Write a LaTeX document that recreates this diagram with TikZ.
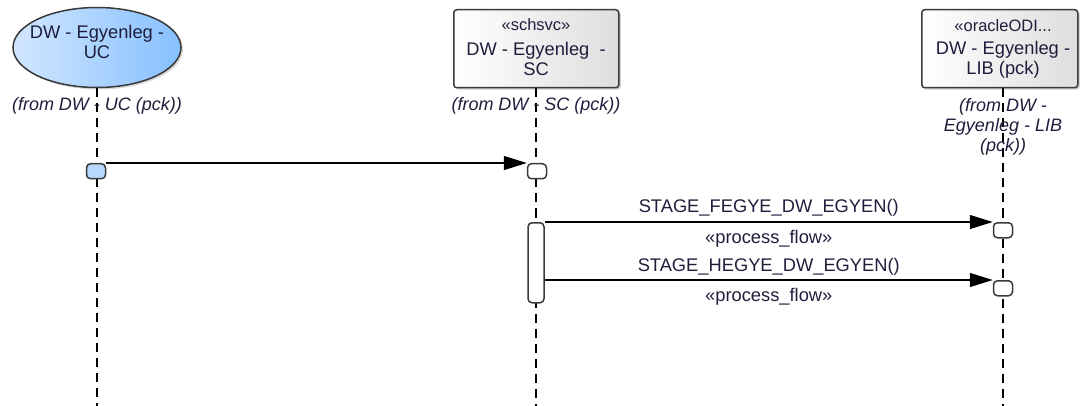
\documentclass[tikz,border=0pt]{standalone}
\usepackage{fontspec}
\setmainfont{Liberation Sans}
\usetikzlibrary{arrows.meta,shadows,shapes.geometric}
\definecolor{txtc}{HTML}{1E1E3C}
\definecolor{edgec}{HTML}{3A3A3A}
\definecolor{ucleft}{HTML}{D2E7FF}
\definecolor{ucright}{HTML}{86C0FF}
\definecolor{execblue}{HTML}{B7D7FF}
\begin{document}
\begin{tikzpicture}[x=1pt,y=-1pt,
  lbl/.style={text=txtc, font=\fontsize{18.3}{20}\selectfont, inner sep=0pt, align=center},
  fromlbl/.style={lbl, font=\fontsize{18}{20}\selectfont\itshape},
  clsbox/.style={draw=edgec, line width=1.5pt, rounded corners=3pt, left color=white, right color=black!13,
    drop shadow={shadow xshift=2pt, shadow yshift=-2pt, opacity=0.35}, minimum height=78pt, inner sep=0pt, anchor=north west},
  life/.style={draw=black, line width=1.3pt, dash pattern=on 9pt off 6pt},
  execbox/.style={draw=edgec, line width=1.5pt, rounded corners=4pt, fill=white, minimum width=19pt, minimum height=15pt, inner sep=0pt, anchor=north},
  msg/.style={draw=black, line width=1.3pt, -{Triangle[length=23pt,width=14pt]}}
]
\useasboundingbox (0,0) rectangle (1081,406);

% lifeline heads
\node[ellipse, draw=edgec, line width=1.5pt, left color=ucleft, right color=ucright,
  minimum width=168pt, minimum height=80pt, inner sep=0pt,
  drop shadow={shadow xshift=2pt, shadow yshift=-2pt, opacity=0.3}] (uc) at (97,47.5) {};
\node[clsbox, minimum width=165pt] (sc) at (453,9) {};
\node[clsbox, minimum width=156pt] (lib) at (921,9) {};

\coordinate (ucend) at (97,406);
\coordinate (scend) at (536,406);
\coordinate (libend) at (1003,406);
\path[life] (uc.south) -- (ucend);
\path[life] (sc.south -| scend) -- (scend);
\path[life] (lib.south -| libend) -- (libend);

% texts in heads
\node[lbl] (ucname) at (97,42) {DW - Egyenleg -\\UC};
\node[lbl, font=\fontsize{16.5}{20}\selectfont] (scst) at (536,25) {«schsvc»};
\node[lbl] (scname) at (536,59) {DW - Egyenleg~~-\\SC};
\node[lbl, font=\fontsize{16.5}{20}\selectfont] (libst) at (1003,26) {«oracleODI...};
\node[lbl] (libname) at (1003,60) {DW - Egyenleg -\\LIB (pck)};

\node[fromlbl] (ucfrom) at (97,106) {(from DW - UC (pck))};
\node[fromlbl] (scfrom) at (536,106) {(from DW - SC (pck))};
\node[fromlbl] (libfrom) at (1003,127) {(from DW -\\Egyenleg - LIB\\(pck))};

% executions
\node[execbox, fill=execblue] (e1) at (96,163) {};
\node[execbox] (e2) at (537,163) {};
\node[execbox, minimum width=16pt, minimum height=80pt] (act) at (536,222) {};
\node[execbox] (e3) at (1003,222) {};
\node[execbox] (e4) at (1003,280) {};

% messages
\draw[msg] (e1.north east) -- (e2.north west);
\draw[msg] (act.east |- e3.north) -- node[lbl, yshift=14pt] (m1) {STAGE\_FEGYE\_DW\_EGYEN()}
  node[lbl, yshift=-17pt] (m1s) {«process\_flow»} (e3.north west);
\draw[msg] (act.east |- e4.north) -- node[lbl, yshift=13pt] (m2) {STAGE\_HEGYE\_DW\_EGYEN()}
  node[lbl, yshift=-17pt] (m2s) {«process\_flow»} (e4.north west);
\end{tikzpicture}
\end{document}
